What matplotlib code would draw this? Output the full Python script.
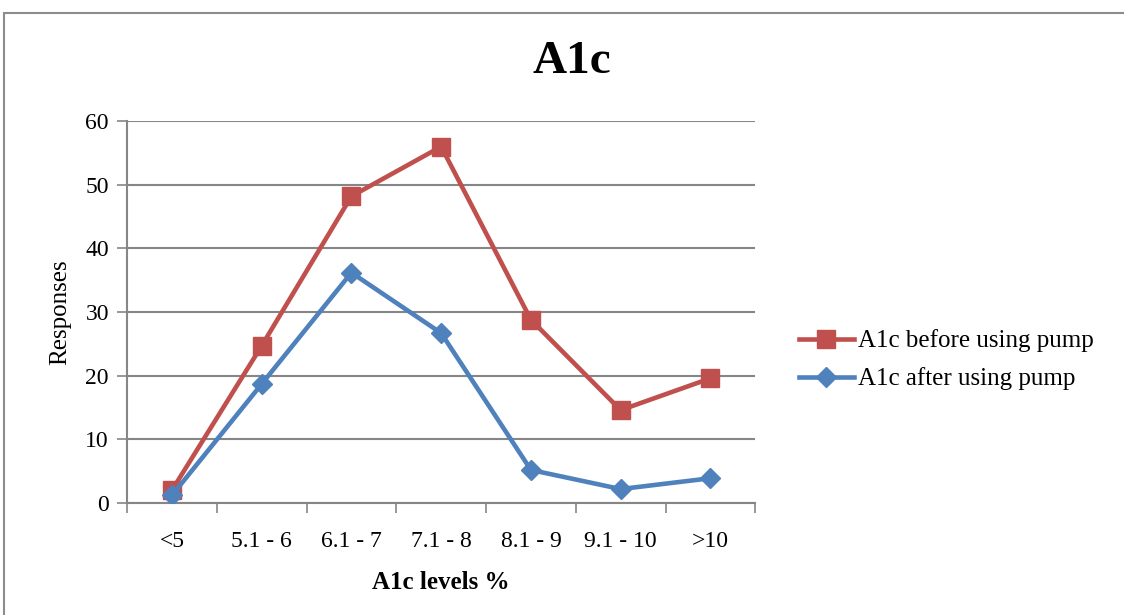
import matplotlib.pyplot as plt
from matplotlib.patches import Rectangle

categories = ["<5", "5.1 - 6", "6.1 - 7", "7.1 - 8", "8.1 - 9", "9.1 - 10", ">10"]
before_pump = [2.0, 24.7, 48.2, 56.0, 28.8, 14.6, 19.6]
after_pump = [1.2, 18.7, 36.2, 26.7, 5.2, 2.2, 3.9]

RED = "#C0504D"
BLUE = "#4F81BD"
GRID = "#868686"

plt.rcParams["font.family"] = ["Liberation Serif", "DejaVu Serif"]

fig = plt.figure(figsize=(11.24, 6.15), dpi=100)
ax = fig.add_axes([0.113, 0.182, 0.559, 0.621])

# outer chart border (Excel style)
fig.patches.append(Rectangle((4 / 1124, -0.1), 1.2, 1 - 13 / 615 + 0.1,
                             transform=fig.transFigure, fill=False,
                             edgecolor="#8c8c8c", linewidth=1.5))

x = list(range(len(categories)))
ax.plot(x, before_pump, color=RED, linewidth=3.3, marker="s", markersize=13,
        label="A1c before using pump", zorder=3)
ax.plot(x, after_pump, color=BLUE, linewidth=3.3, marker="D", markersize=10,
        label="A1c after using pump", zorder=3)

ax.set_xlim(-0.5, len(categories) - 0.5)
ax.set_ylim(0, 60)
ax.set_yticks(range(0, 61, 10))
ax.yaxis.grid(True, color=GRID, linewidth=1.5)
ax.set_axisbelow(True)

# tick marks on category boundaries, labels at centres
ax.set_xticks([i - 0.5 for i in range(len(categories) + 1)])
ax.set_xticklabels([])
ax.set_xticks(x, minor=True)
ax.set_xticklabels(categories, minor=True, fontsize=17)
ax.tick_params(axis="x", which="minor", length=0, pad=20)
ax.tick_params(axis="x", which="major", length=7, color=GRID, width=1.2)
ax.tick_params(axis="y", length=7, color=GRID, width=1.2, labelsize=17, pad=6)

for side in ["top", "right"]:
    ax.spines[side].set_visible(False)
for side in ["left", "bottom"]:
    ax.spines[side].set_color(GRID)
    ax.spines[side].set_linewidth(1.5)

ax.set_ylabel("Responses", fontsize=18, labelpad=10)
ax.set_xlabel("A1c levels %", fontsize=18, fontweight="bold", labelpad=14)
fig.text(572 / 1124, 1 - 62 / 615, "A1c", fontsize=34, fontweight="bold",
         ha="center", va="center")

fig.legend(loc="center left", bbox_to_anchor=(776 / 1124, 1 - 360 / 615),
           frameon=False, fontsize=18, handlelength=2.2, handletextpad=0.2,
           labelspacing=0.6)

fig.savefig("out.png", dpi=100)
